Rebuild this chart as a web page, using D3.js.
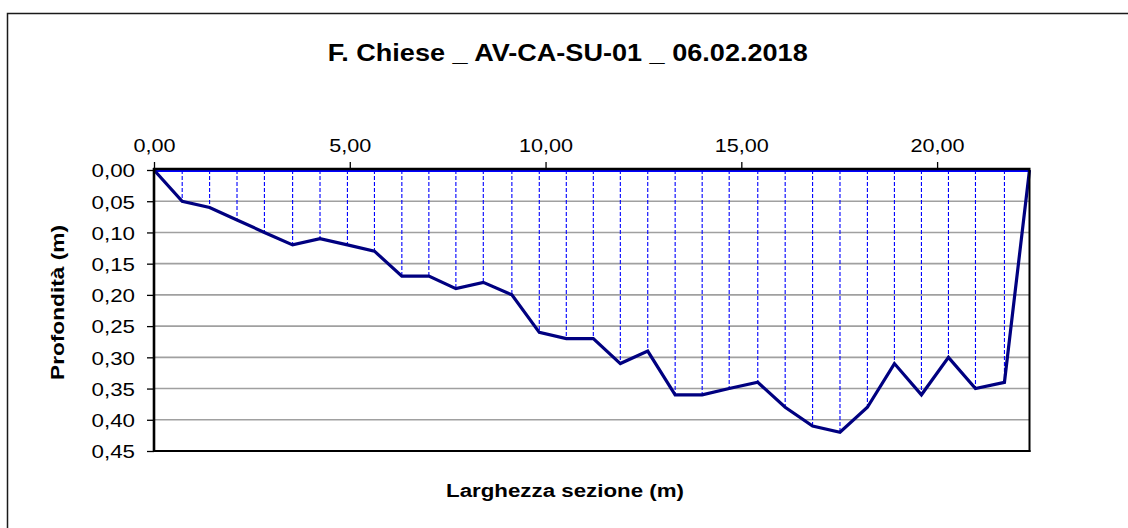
<!DOCTYPE html>
<html>
<head>
<meta charset="utf-8">
<script src="https://cdn.jsdelivr.net/npm/d3@7"></script>
<style>
  html, body { margin: 0; padding: 0; background: #fff; }
  svg { display: block; font-family: "Liberation Sans", Arial, sans-serif; }
</style>
</head>
<body>
<svg id="chart" width="1128" height="528"></svg>
<script>
// ---- data ----
const chartTitle = "F. Chiese _ AV-CA-SU-01 _ 06.02.2018";
const xTitle = "Larghezza sezione (m)";
const yTitle = "Profondità (m)";
const distances = [0, 0.72, 1.42, 2.12, 2.82, 3.54, 4.24, 4.94, 5.63, 6.33, 7.02,
  7.71, 8.41, 9.14, 9.84, 10.53, 11.22, 11.91, 12.61, 13.31, 14.00, 14.69, 15.42,
  16.12, 16.82, 17.52, 18.22, 18.91, 19.60, 20.29, 20.98, 21.72, 22.36];
const depths = [0, 0.05, 0.06, 0.08, 0.10, 0.12, 0.11, 0.12, 0.13, 0.17, 0.17,
  0.19, 0.18, 0.20, 0.26, 0.27, 0.27, 0.31, 0.29, 0.36, 0.36, 0.35, 0.34,
  0.38, 0.41, 0.42, 0.38, 0.31, 0.36, 0.30, 0.35, 0.34, 0];
const xTicks = [0, 5, 10, 15, 20];
const yTicks = [0, 0.05, 0.10, 0.15, 0.20, 0.25, 0.30, 0.35, 0.40, 0.45];
const xDomain = [0, 22.36];
const yDomain = [0, 0.45];

// ---- layout ----
const svg = d3.select("#chart");
const L = 154, R = 1029.5, T = 170, B = 451;
const x = d3.scaleLinear().domain(xDomain).range([L, R]);
const y = d3.scaleLinear().domain(yDomain).range([T, B]);
const loc = d3.formatLocale({decimal: ",", thousands: ".", grouping: [3], currency: ["", "€"]});
const fmt = loc.format(".2f");

// outer frame
svg.append("rect").attr("x", 7.5).attr("y", 13.5).attr("width", 1130).attr("height", 530)
  .attr("fill", "#fff").attr("stroke", "#1a1a1a").attr("stroke-width", 1.5);

// gridlines
svg.append("g").selectAll("line").data(yTicks.slice(1, -1)).join("line")
  .attr("x1", L).attr("x2", R).attr("y1", d => y(d)).attr("y2", d => y(d))
  .attr("stroke", "#a0a0a0").attr("stroke-width", 1.6);

// dashed verticals from surface to bed
svg.append("g").selectAll("line").data(distances.map((d, i) => [d, depths[i]]).filter(p => p[1] > 0)).join("line")
  .attr("x1", p => x(p[0])).attr("x2", p => x(p[0]))
  .attr("y1", y(0)).attr("y2", p => y(p[1]))
  .attr("stroke", "#0000ff").attr("stroke-width", 1.1).attr("stroke-dasharray", "4,2");

// water surface
svg.append("line").attr("x1", x(xDomain[0])).attr("x2", x(xDomain[1]))
  .attr("y1", y(0) + 1).attr("y2", y(0) + 1).attr("stroke", "#0000ff").attr("stroke-width", 2);

// bed profile
const line = d3.line().x((d, i) => x(distances[i])).y(d => y(d));
svg.append("path").datum(depths).attr("d", line)
  .attr("fill", "none").attr("stroke", "#000080").attr("stroke-width", 3.2)
  .attr("stroke-linejoin", "miter");

// right and bottom frame of plot area
svg.append("line").attr("x1", R).attr("x2", R).attr("y1", T).attr("y2", B + 1)
  .attr("stroke", "#000").attr("stroke-width", 2);
svg.append("line").attr("x1", L).attr("x2", R + 1).attr("y1", B).attr("y2", B)
  .attr("stroke", "#000").attr("stroke-width", 2);

// axes
const xAxis = svg.append("g").attr("transform", `translate(0,${T - 1})`)
  .call(d3.axisTop(x).tickValues(xTicks).tickFormat(fmt).tickSize(7).tickPadding(10).tickSizeOuter(0));
const yAxis = svg.append("g").attr("transform", `translate(${L},0)`)
  .call(d3.axisLeft(y).tickValues(yTicks).tickFormat(fmt).tickSize(7).tickPadding(12).tickSizeOuter(0));
[xAxis, yAxis].forEach(g => {
  g.select(".domain").attr("stroke", "#000").attr("stroke-width", 2.6);
  g.selectAll(".tick line").attr("stroke", "#000").attr("stroke-width", 1.3);
  g.selectAll("text").attr("font-size", 18).attr("fill", "#000")
    .attr("font-family", "'Liberation Sans', Arial, sans-serif");
});
yAxis.selectAll(".tick text").attr("dy", "0.38em");
yAxis.select(".domain").attr("d", `M0,${T - 2}V${B + 1}`);
xAxis.select(".domain").attr("d", `M${L - 1},0H${R + 1}`);

function stretch(sel, k) {
  sel.each(function () {
    const w = this.getComputedTextLength();
    d3.select(this).attr("textLength", w * k).attr("lengthAdjust", "spacingAndGlyphs");
  });
}
stretch(xAxis.selectAll("text"), 1.2);
stretch(yAxis.selectAll("text"), 1.24);

// titles
svg.append("text").attr("x", 567.7).attr("y", 60.7).attr("text-anchor", "middle")
  .attr("font-size", 23).attr("font-weight", "bold").attr("fill", "#000")
  .attr("textLength", 480).attr("lengthAdjust", "spacingAndGlyphs").text(chartTitle);
svg.append("text").attr("x", 565).attr("y", 496.7).attr("text-anchor", "middle")
  .attr("font-size", 18).attr("font-weight", "bold").attr("fill", "#000")
  .attr("textLength", 238).attr("lengthAdjust", "spacingAndGlyphs").text(xTitle);
svg.append("text").attr("transform", "translate(63.5,302.5) rotate(-90)").attr("text-anchor", "middle")
  .attr("font-size", 18).attr("font-weight", "bold").attr("fill", "#000")
  .attr("textLength", 155).attr("lengthAdjust", "spacingAndGlyphs").text(yTitle);
</script>
</body>
</html>
